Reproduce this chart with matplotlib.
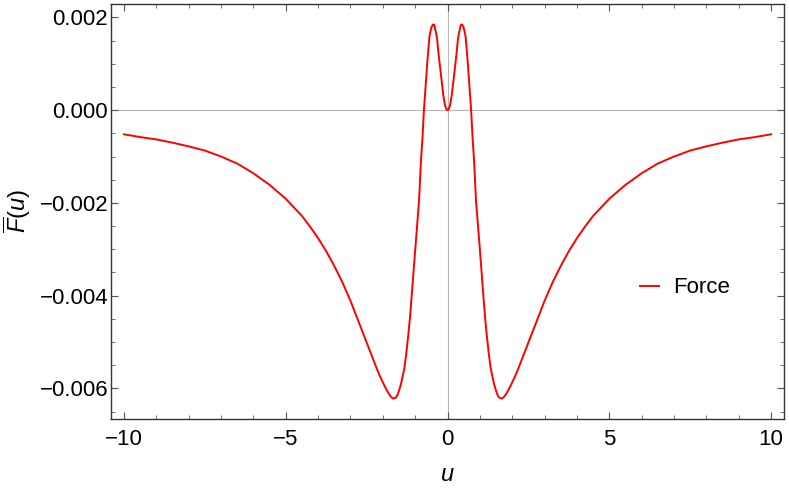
import numpy as np
import matplotlib.pyplot as plt
from matplotlib.ticker import MultipleLocator, FuncFormatter

plt.rcParams['font.family'] = ['Liberation Sans', 'DejaVu Sans']
plt.rcParams['mathtext.fontset'] = 'custom'
plt.rcParams['mathtext.it'] = 'Liberation Sans:italic'
plt.rcParams['mathtext.rm'] = 'Liberation Sans'

# values
u = [-10, -9.5, -9, -8.5, -8, -7.5, -7, -6.5, -6, -5.5, -5, -4.5, -4.25, -4,
     -3.75, -3.5, -3.25, -3, -2.8, -2.6, -2.45, -2.3, -2.2, -2.1, -2.0, -1.93,
     -1.87, -1.8, -1.75, -1.68, -1.6, -1.55, -1.5, -1.44, -1.38, -1.33, -1.27,
     -1.21, -1.16, -1.12, -1.08, -1.04, -1.0, -0.96, -0.92, -0.88, -0.85,
     -0.82, -0.77, -0.73, -0.67, -0.62, -0.56, -0.52, -0.49, -0.46, -0.44,
     -0.41, -0.38, -0.35, -0.32, -0.28, -0.23, -0.18, -0.13, -0.08, -0.04, 0,
     0.04, 0.08, 0.13, 0.18, 0.23, 0.28, 0.32, 0.35, 0.38, 0.41, 0.44, 0.46,
     0.49, 0.52, 0.56, 0.62, 0.67, 0.73, 0.77, 0.82, 0.85, 0.88, 0.92, 0.96,
     1.0, 1.04, 1.08, 1.12, 1.16, 1.21, 1.27, 1.33, 1.38, 1.44, 1.5, 1.55,
     1.6, 1.68, 1.75, 1.8, 1.87, 1.93, 2.0, 2.1, 2.2, 2.3, 2.45, 2.6, 2.8, 3,
     3.25, 3.5, 3.75, 4, 4.25, 4.5, 5, 5.5, 6, 6.5, 7, 7.5, 8, 8.5, 9, 9.5, 10]
force = [-0.00052, -0.00058, -0.00063, -0.00070, -0.00078, -0.00087, -0.00100,
         -0.00115, -0.00136, -0.00161, -0.00191, -0.00228, -0.00251, -0.00276,
         -0.00304, -0.00336, -0.00371, -0.00411, -0.00447, -0.00483, -0.00510,
         -0.00537, -0.00555, -0.00572, -0.00587, -0.00597, -0.00605, -0.00613,
         -0.00618, -0.00622, -0.00620, -0.00615, -0.00605, -0.00591, -0.00572,
         -0.00555, -0.00522, -0.00483, -0.00447, -0.00411, -0.00375, -0.00339,
         -0.00300, -0.00267, -0.00230, -0.00195, -0.00150, -0.00108, -0.00055,
         0.0, 0.00058, 0.00108, 0.00158, 0.00172, 0.00180, 0.00184, 0.00185,
         0.00184, 0.00175, 0.00165, 0.00152, 0.00123, 0.00092, 0.00061,
         0.00032, 0.00011, 0.00003, 0.0,
         0.00003, 0.00011, 0.00032, 0.00061, 0.00092, 0.00123, 0.00152,
         0.00165, 0.00175, 0.00184, 0.00185, 0.00184, 0.00180, 0.00172,
         0.00158, 0.00108, 0.00058, 0.0, -0.00055, -0.00108, -0.00150,
         -0.00195, -0.00230, -0.00267, -0.00300, -0.00339, -0.00375, -0.00411,
         -0.00447, -0.00483, -0.00522, -0.00555, -0.00572, -0.00591, -0.00605,
         -0.00615, -0.00620, -0.00622, -0.00618, -0.00613, -0.00605, -0.00597,
         -0.00587, -0.00572, -0.00555, -0.00537, -0.00510, -0.00483, -0.00447,
         -0.00411, -0.00371, -0.00336, -0.00304, -0.00276, -0.00251, -0.00228,
         -0.00191, -0.00161, -0.00136, -0.00115, -0.00100, -0.00087, -0.00078,
         -0.00070, -0.00063, -0.00058, -0.00052]

fig = plt.figure(figsize=(7.89, 4.90), dpi=100)
ax = fig.add_axes([0.1407, 0.1449, 0.8530, 0.8469])

ax.axhline(0, color='#b8b8b8', lw=0.8, zorder=1)
ax.axvline(0, color='#b8b8b8', lw=0.8, zorder=1)
ax.plot(u, force, color='#ff0000', lw=1.4, label='Force', zorder=3,
        solid_joinstyle='round')

ax.set_xlim(-10.4, 10.4)
ax.set_ylim(-0.00666, 0.00229)

ax.xaxis.set_major_locator(MultipleLocator(5))
ax.xaxis.set_minor_locator(MultipleLocator(1))
ax.yaxis.set_major_locator(MultipleLocator(0.002))
ax.yaxis.set_minor_locator(MultipleLocator(0.0005))
ax.yaxis.set_major_formatter(FuncFormatter(lambda v, p: ('%.3f' % v).replace('-', '\u2212')))
ax.xaxis.set_major_formatter(FuncFormatter(lambda v, p: ('%d' % round(v)).replace('-', '\u2212')))

for s in ax.spines.values():
    s.set_color('#333333')
    s.set_linewidth(1.0)
ax.tick_params(which='both', direction='in', top=True, right=True,
               colors='#555555', labelcolor='black', labelsize=16)
ax.tick_params(which='major', length=5, width=0.8)
ax.tick_params(which='minor', length=3, width=0.6)
ax.tick_params(axis='x', which='major', pad=7)
ax.tick_params(axis='y', which='major', pad=2)

ax.set_xlabel(r'$u$', fontsize=17, labelpad=10)
ax.set_ylabel(r'$\overline{F}(u)$', fontsize=17, labelpad=5)

ax.legend(loc='center left', bbox_to_anchor=(0.757, 0.316), frameon=False,
          fontsize=16, handlelength=0.85, handletextpad=0.6)

fig.savefig('out.png', dpi=100)
